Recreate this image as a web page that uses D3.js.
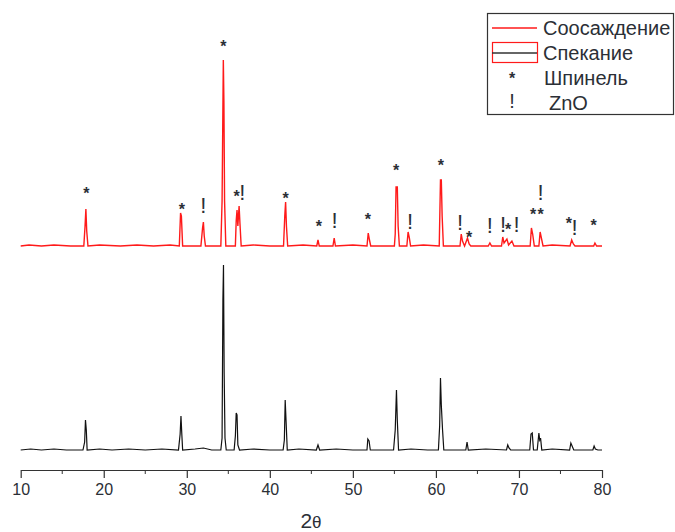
<!DOCTYPE html>
<html>
<head>
<meta charset="utf-8">
<script src="https://cdn.jsdelivr.net/npm/d3@7"></script>
<style>
	body { margin: 0; background: #fff; }
	svg { display: block; }
</style>
</head>
<body>
<script>
// 2theta, intensity (Спекание)
var sinteringData = [
	[10.0,0],[11.2,1],[12.5,0],[14.0,1],[15.5,0],[17.5,0],[17.7,8],[17.8,30],[17.9,20],[18.0,0],
	[19.5,1],[21,0],[23,1],[25,0],[27,1],[29.0,0],[29.2,16],[29.3,34],[29.4,16],[29.5,0],
	[31,1],[32.0,2],[33,0],[34.1,0],[34.25,12],[34.35,150],[34.42,185],[34.5,77],[34.6,12],[34.75,0],
	[35.7,0],[35.85,14],[35.95,37],[36.05,35],[36.15,5],[36.35,0],[38,1],[40,0],
	[41.6,0],[41.75,10],[41.85,50],[41.95,30],[42.1,0],[43.5,1],[45.6,0],[45.8,5],[46.0,0],
	[48,1],[50,0],[51.7,0],[51.8,11],[51.95,9],[52.1,0],[54.9,0],[55.1,20],[55.25,60],[55.35,30],[55.5,0],
	[57,1],[59,0],[60.3,0],[60.45,24],[60.55,72],[60.65,45],[60.8,20],[60.95,0],
	[63.6,0],[63.75,8],[63.9,0],[66,1],[68.5,0],[68.65,5],[68.8,2],[69,0],
	[71.3,0],[71.45,16],[71.6,17],[71.75,0],[72.2,0],[72.4,17],[72.5,10],[72.6,12],[72.75,0],
	[74,1],[76.1,0],[76.25,7],[76.45,3],[76.6,0],[78.9,0],[79.05,4],[79.2,1],[79.5,0],[80,0]
];

// 2theta, intensity (Соосаждение)
var coprecipData = [
	[10,0],[11,1],[12.5,0],[14,1],[16,0],[17.6,0],[17.75,20],[17.85,37],[17.95,15],[18.1,0],
	[19.5,1],[22,0],[24,1],[26,0],[28,1],[29.1,0],[29.25,33],[29.35,30],[29.5,0],
	[31.7,0],[31.9,18],[32.0,24],[32.1,10],[32.25,0],[34.1,0],[34.25,45],[34.4,186],[34.47,144],[34.55,45],[34.7,0],
	[35.85,0],[35.95,25],[36.05,36],[36.15,20],[36.3,40],[36.4,23],[36.55,0],[38,1],[40,0],
	[41.65,0],[41.8,30],[41.9,44],[42.0,20],[42.15,0],[44,1],[45.65,0],[45.8,6],[45.95,0],
	[47.6,0],[47.75,8],[47.9,0],[50,1],[51.7,0],[51.85,13],[52.0,6],[52.15,0],
	[55.0,0],[55.1,12],[55.2,59],[55.35,59],[55.45,20],[55.6,0],[56.5,0],[56.65,14],[56.8,8],[56.95,0],
	[58.5,1],[60.4,0],[60.55,66],[60.65,66],[60.75,30],[60.9,0],
	[62.9,0],[63.05,12],[63.2,5],[63.45,0],[63.8,8],[64.0,2],[64.2,0],
	[66.3,0],[66.5,3],[66.7,0],[67.9,0],[68.05,9],[68.2,3],[68.55,7],[68.75,1],[69.15,5],[69.4,0],
	[71.35,0],[71.5,18],[71.65,12],[71.85,0],[72.4,0],[72.55,14],[72.7,8],[72.9,0],
	[74,1],[76.15,0],[76.35,6],[76.55,2],[76.75,0],[79.0,0],[79.15,3],[79.35,0],[80,0]
];

// phase markers above the coprecipitation curve: 2theta, level
var spinelMarks = [
	[17.9,57],[29.4,41],[34.4,204],[36.0,54],[41.9,52],[45.9,24],[51.8,31],[55.2,80],
	[60.6,85],[64.0,13],[68.7,21],[71.7,36],[72.6,36],[76.0,27],[79.0,25]
];
var znoMarks = [
	[32.0,41],[36.7,54],[47.8,26],[56.9,25],[62.9,24],[66.5,21],[68.1,22],[69.7,22],[72.6,54],[76.7,19]
];

var xTicks = [10, 20, 30, 40, 50, 60, 70, 80];
var xMinorTicks = [15, 25, 35, 45, 55, 65, 75];
var legendLabels = ["Соосаждение", "Спекание", "Шпинель", "ZnO"];

var width = 675,
	height = 532,
	redOffset = 204,
	textColor = "#2b2f36",
	font = "'Liberation Sans', Arial, sans-serif";

var svg = d3.select("body").append("svg")
	.attr("width", width)
	.attr("height", height);

var x = d3.scaleLinear().domain([10, 80]).range([20.7, 602]);
var y = d3.scaleLinear().domain([0, 400]).range([450, 50]);

var line = d3.line()
	.x(function (d) { return x(d[0]); })
	.y(function (d) { return y(d[1]); });

var lineRed = d3.line()
	.x(function (d) { return x(d[0]); })
	.y(function (d) { return y(d[1] + redOffset); });

svg.append("path")
	.datum(sinteringData)
	.attr("d", line)
	.attr("fill", "none")
	.attr("stroke", "#111")
	.attr("stroke-width", 1.2);

svg.append("path")
	.datum(coprecipData)
	.attr("d", lineRed)
	.attr("fill", "none")
	.attr("stroke", "#ff1a1a")
	.attr("stroke-width", 1.4);

// markers
svg.selectAll("text.spinel")
	.data(spinelMarks)
	.enter()
	.append("text")
	.attr("class", "spinel")
	.attr("x", function (d) { return x(d[0]); })
	.attr("y", function (d) { return y(d[1] + redOffset) + 10; })
	.attr("text-anchor", "middle")
	.attr("font-family", font)
	.attr("font-weight", "bold")
	.attr("font-size", "16px")
	.attr("fill", textColor)
	.text("*");

svg.selectAll("text.zno")
	.data(znoMarks)
	.enter()
	.append("text")
	.attr("class", "zno")
	.attr("x", function (d) { return x(d[0]); })
	.attr("y", function (d) { return y(d[1] + redOffset) + 8; })
	.attr("text-anchor", "middle")
	.attr("font-family", font)
	.attr("font-size", "22px")
	.attr("fill", textColor)
	.text("!");

// x axis
var axisG = svg.append("g")
	.attr("transform", "translate(0,470)");

axisG.call(d3.axisBottom(x)
	.tickValues(xTicks)
	.tickSize(8)
	.tickSizeOuter(0)
	.tickPadding(6)
	.tickFormat(d3.format("d")));

axisG.selectAll(".minor")
	.data(xMinorTicks)
	.enter()
	.append("line")
	.attr("class", "minor")
	.attr("x1", function (d) { return x(d); })
	.attr("x2", function (d) { return x(d); })
	.attr("y1", 0)
	.attr("y2", 4)
	.attr("stroke", "#333");

axisG.select(".domain").attr("stroke", "#333").attr("stroke-width", 1.2);
axisG.selectAll(".tick line").attr("stroke", "#333").attr("stroke-width", 1.2);
axisG.selectAll(".tick text")
	.attr("font-family", font)
	.attr("font-size", "16px")
	.attr("fill", textColor);

var title = svg.append("text")
	.attr("x", 311)
	.attr("y", 528)
	.attr("text-anchor", "middle")
	.attr("font-family", font)
	.attr("font-size", "21px")
	.attr("fill", textColor);
title.append("tspan").text("2");
title.append("tspan").attr("font-size", "17px").text("θ");

// legend
var legend = svg.append("g");

legend.append("rect")
	.attr("x", 487.5)
	.attr("y", 13.5)
	.attr("width", 186)
	.attr("height", 101)
	.attr("fill", "#fff")
	.attr("stroke", "#333")
	.attr("stroke-width", 1.2);

legend.append("line")
	.attr("x1", 492).attr("x2", 537)
	.attr("y1", 28).attr("y2", 28)
	.attr("stroke", "#ff1a1a")
	.attr("stroke-width", 1.4);

legend.append("rect")
	.attr("x", 492.5).attr("y", 42.5)
	.attr("width", 45).attr("height", 20)
	.attr("fill", "none")
	.attr("stroke", "#ff1a1a")
	.attr("stroke-width", 1.2);

legend.append("line")
	.attr("x1", 492).attr("x2", 537)
	.attr("y1", 53).attr("y2", 53)
	.attr("stroke", "#333")
	.attr("stroke-width", 1.4);

legend.append("text")
	.attr("x", 512).attr("y", 84)
	.attr("text-anchor", "middle")
	.attr("font-family", font)
	.attr("font-weight", "bold")
	.attr("font-size", "16px")
	.attr("fill", textColor)
	.text("*");

legend.append("text")
	.attr("x", 512).attr("y", 108)
	.attr("text-anchor", "middle")
	.attr("font-family", font)
	.attr("font-size", "20px")
	.attr("fill", textColor)
	.text("!");

var legendPos = [[543, 35], [543, 60], [544, 85], [549, 110]];
legend.selectAll("text.label")
	.data(legendLabels)
	.enter()
	.append("text")
	.attr("class", "label")
	.attr("x", function (d, i) { return legendPos[i][0]; })
	.attr("y", function (d, i) { return legendPos[i][1]; })
	.attr("font-family", font)
	.attr("font-size", "20px")
	.attr("fill", textColor)
	.text(function (d) { return d; });
</script>
</body>
</html>
